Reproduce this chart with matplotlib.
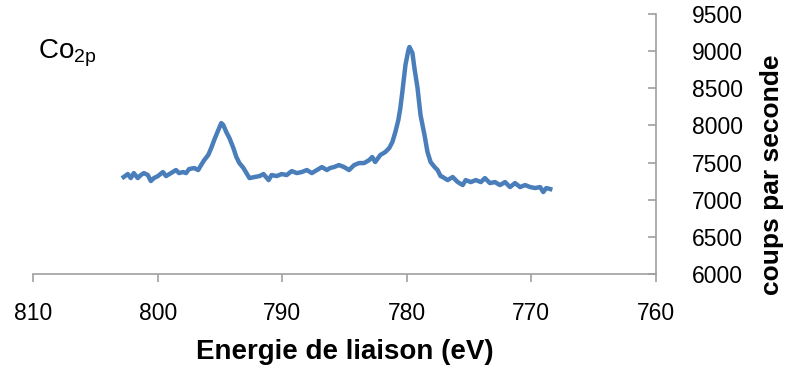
import matplotlib.pyplot as plt

# Spectre XPS Co 2p : energie de liaison (eV) et coups par seconde
energie = [802.73, 802.40, 802.16, 801.92, 801.60, 801.35, 801.11, 800.79, 800.55, 800.30,
           799.98, 799.58, 799.33, 798.93, 798.53, 798.28, 797.96, 797.72, 797.48, 797.07,
           796.75, 796.51, 796.26, 795.94, 795.70, 795.46, 795.13, 794.89, 794.73, 794.49,
           794.24, 793.92, 793.68, 793.44, 793.11, 792.87, 792.63, 792.22, 791.82, 791.50,
           791.09, 790.85, 790.45, 790.04, 789.64, 789.23, 788.83, 788.43, 788.02, 787.62,
           787.21, 786.81, 786.41, 786.16, 785.84, 785.44, 785.03, 784.63, 784.22, 783.82,
           783.42, 783.01, 782.77, 782.53, 782.12, 781.72, 781.40, 781.15, 780.91, 780.67,
           780.51, 780.35, 780.10, 779.86, 779.78, 779.54, 779.38, 779.13, 778.89, 778.57,
           778.33, 778.08, 777.76, 777.52, 777.28, 777.11, 776.71, 776.31, 775.90, 775.50,
           775.26, 774.85, 774.45, 774.04, 773.72, 773.32, 772.91, 772.51, 772.10, 771.70,
           771.30, 770.89, 770.49, 770.08, 769.68, 769.28, 769.03, 768.79, 768.47]
coups = [7306, 7346, 7292, 7359, 7292, 7333, 7359, 7333, 7252, 7292,
         7319, 7373, 7319, 7359, 7400, 7359, 7373, 7359, 7413, 7427,
         7400, 7467, 7534, 7602, 7696, 7804, 7938, 8032, 8006, 7911,
         7831, 7696, 7575, 7494, 7427, 7359, 7292, 7306, 7319, 7346,
         7265, 7333, 7319, 7346, 7333, 7386, 7359, 7373, 7400, 7359,
         7400, 7440, 7400, 7427, 7440, 7467, 7440, 7400, 7467, 7494,
         7494, 7534, 7575, 7508, 7602, 7642, 7696, 7777, 7911, 8073,
         8234, 8450, 8813, 9015, 9055, 8975, 8773, 8504, 8140, 7871,
         7642, 7508, 7440, 7400, 7319, 7306, 7265, 7306, 7238, 7198,
         7265, 7238, 7265, 7238, 7292, 7225, 7238, 7198, 7238, 7171,
         7225, 7171, 7198, 7171, 7158, 7171, 7104, 7158, 7144]

xticks = [810, 800, 790, 780, 770, 760]
yticks = [6000, 6500, 7000, 7500, 8000, 8500, 9000, 9500]

police = ['Liberation Sans', 'DejaVu Sans']

fig = plt.figure(figsize=(7.9, 3.66), dpi=100)
ax = fig.add_axes([0.042, 0.251, 0.788, 0.711])

ax.plot(energie, coups, color='#4a7ebb', linewidth=3.2)

ax.set_xlim(810, 760)
ax.set_ylim(6000, 9500)
ax.set_xticks(xticks)
ax.set_yticks(yticks)

# axe des y a droite, comme dans Excel
ax.yaxis.tick_right()
ax.yaxis.set_label_position('right')
for s in ['left', 'top']:
    ax.spines[s].set_visible(False)
for s in ['right', 'bottom']:
    ax.spines[s].set_color('#a0a0a0')
    ax.spines[s].set_linewidth(1.2)

ax.tick_params(axis='x', direction='out', length=6, width=1.2, color='#a0a0a0',
               labelsize=16.5, pad=14)
ax.tick_params(axis='y', direction='in', length=6, width=1.2, color='#a0a0a0',
               labelsize=16.5, pad=26)
for lab in ax.get_xticklabels() + ax.get_yticklabels():
    lab.set_family(police)

ax.set_xlabel('Energie de liaison (eV)', fontsize=20, fontweight='bold',
              family=police, labelpad=10)
ax.set_ylabel('coups par seconde', fontsize=19, fontweight='bold',
              family=police)
ax.yaxis.set_label_coords(1.168, 0.38)

ax.text(0.008, 0.85, 'Co$_\\mathregular{2p}$', transform=ax.transAxes, fontsize=20,
        family=police, va='center', ha='left')

fig.savefig('out.png', dpi=100)
